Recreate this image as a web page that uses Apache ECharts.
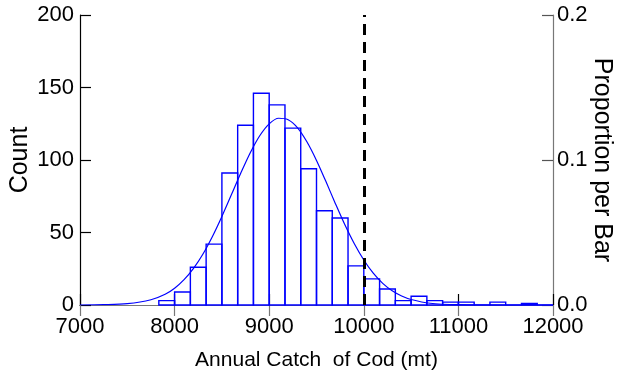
<!DOCTYPE html>
<html>
<head>
<meta charset="utf-8">
<script src="https://cdn.jsdelivr.net/npm/echarts@6/dist/echarts.min.js"></script>
<style>
html,body{margin:0;padding:0;background:#fff;}
#chart{width:623px;height:377px;}
</style>
</head>
<body>
<div id="chart"></div>
<script>
// Histogram bin edges (annual catch, mt) and counts per bin
var binEdges = [7833.3, 8000, 8166.7, 8333.3, 8500, 8666.7, 8833.3, 9000, 9166.7, 9333.3,
                9500, 9666.7, 9833.3, 10000, 10166.7, 10333.3, 10500, 10666.7, 10833.3,
                11000, 11166.7, 11333.3, 11500, 11666.7, 11833.3, 12000];
var counts = [3, 9, 26, 42, 91, 124, 146, 138, 122, 94,
              65, 60, 27, 18, 11, 3, 6, 3, 2,
              2, 0, 2, 0, 1, 0];
// Fitted curve (x in mt, y in counts)
var curveX = [7000, 7250, 7500, 7750, 7900, 8000, 8100, 8200, 8300, 8400, 8500, 8600, 8700,
              8800, 8900, 9000, 9100, 9200, 9300, 9400, 9500, 9600, 9700, 9800, 9900,
              10000, 10100, 10200, 10300, 10400, 10500, 10700, 11000, 11500, 12000];
var curveY = [0.0, 0.2, 0.9, 3.6, 7.4, 11.6, 17.5, 25.3, 35.2, 47.3, 61.1, 76.0, 91.0,
              105.0, 116.7, 124.9, 128.8, 127.8, 122.2, 112.4, 99.7, 85.1, 69.9, 55.3, 42.2,
              31.0, 21.9, 14.9, 9.8, 6.2, 3.8, 1.2, 0.2, 0.0, 0.0];
var refLineX = 10000;
var xTicks = [7000, 8000, 9000, 10000, 11000, 12000];
var countTicks = [0, 50, 100, 150, 200];
var propTicks = [0.0, 0.1, 0.2];

var font = "'Liberation Sans',Arial,sans-serif";

var barData = [];
for (var i = 0; i < counts.length; i++) {
  barData.push([binEdges[i], binEdges[i + 1], counts[i]]);
}
var curveData = curveX.map(function (x, i) { return [x, curveY[i]]; });

var chart = echarts.init(document.getElementById('chart'), null, {renderer: 'canvas'});
chart.setOption({
  animation: false,
  backgroundColor: '#ffffff',
  grid: {left: 80, right: 70, top: 15, bottom: 72, containLabel: false, outerBoundsMode: 'none'},
  xAxis: [{
    type: 'value', position: 'bottom',
    min: xTicks[0], max: xTicks[xTicks.length - 1], interval: 1000,
    name: 'Annual Catch  of Cod (mt)', nameLocation: 'middle', nameGap: 45, nameMoveOverlap: false,
    nameTextStyle: {fontFamily: font, fontSize: 21, color: '#000'},
    axisLine: {show: true, lineStyle: {color: '#000', width: 1.2}},
    axisTick: {show: true, inside: true, length: 11, lineStyle: {color: '#000', width: 1.2}},
    axisLabel: {show: true, margin: 11, fontFamily: font, fontSize: 22, color: '#000',
      hideOverlap: false, showMinLabel: true, showMaxLabel: true,
      formatter: function (v) { return String(v); }},
    splitLine: {show: false}
  }, {
    type: 'value', position: 'top',
    min: xTicks[0], max: xTicks[xTicks.length - 1], interval: 1000,
    axisLine: {show: true, lineStyle: {color: '#777', width: 1.2}},
    axisTick: {show: true, inside: true, length: 11, lineStyle: {color: '#777', width: 1.2}},
    axisLabel: {show: false},
    splitLine: {show: false}
  }],
  yAxis: [{
    type: 'value', position: 'left',
    min: countTicks[0], max: countTicks[countTicks.length - 1], interval: 50,
    name: 'Count', nameLocation: 'middle', nameGap: 47, nameRotate: 90, nameMoveOverlap: false,
    nameTextStyle: {fontFamily: font, fontSize: 25, color: '#000'},
    axisLine: {show: true, lineStyle: {color: '#000', width: 1.2}},
    axisTick: {show: true, inside: true, length: 11, lineStyle: {color: '#000', width: 1.2}},
    axisLabel: {show: true, margin: 6, fontFamily: font, fontSize: 22, color: '#000',
      formatter: function (v) { return String(v); }},
    splitLine: {show: false}
  }, {
    type: 'value', position: 'right',
    min: propTicks[0], max: propTicks[propTicks.length - 1], interval: 0.1,
    name: 'Proportion per Bar', nameLocation: 'middle', nameGap: 36, nameRotate: -90, nameMoveOverlap: false,
    nameTextStyle: {fontFamily: font, fontSize: 25, color: '#000'},
    axisLine: {show: true, lineStyle: {color: '#777', width: 1.2}},
    axisTick: {show: true, inside: true, length: 11, lineStyle: {color: '#555', width: 1.2}},
    axisLabel: {show: true, margin: 4, fontFamily: font, fontSize: 22, color: '#000',
      formatter: function (v) { return v.toFixed(1); }},
    splitLine: {show: false}
  }],
  series: [{
    type: 'custom',
    xAxisIndex: 0, yAxisIndex: 0,
    encode: {x: [0, 1], y: 2},
    data: barData,
    z: 2,
    renderItem: function (params, api) {
      var p0 = api.coord([api.value(0), 0]);
      var p1 = api.coord([api.value(1), api.value(2)]);
      return {
        type: 'rect',
        shape: {x: p0[0], y: p1[1], width: p1[0] - p0[0], height: p0[1] - p1[1]},
        style: {fill: 'rgba(0,0,0,0)', stroke: '#0000ff', lineWidth: 1.4}
      };
    }
  }, {
    type: 'line',
    xAxisIndex: 0, yAxisIndex: 0,
    data: curveData,
    smooth: 0.3,
    symbol: 'none',
    z: 3,
    lineStyle: {color: '#0000ff', width: 1.2},
    markLine: {
      silent: true,
      symbol: ['none', 'none'],
      label: {show: false},
      lineStyle: {color: '#000', width: 3, type: [11, 7]},
      data: [{xAxis: refLineX}]
    }
  }]
});
</script>
</body>
</html>
